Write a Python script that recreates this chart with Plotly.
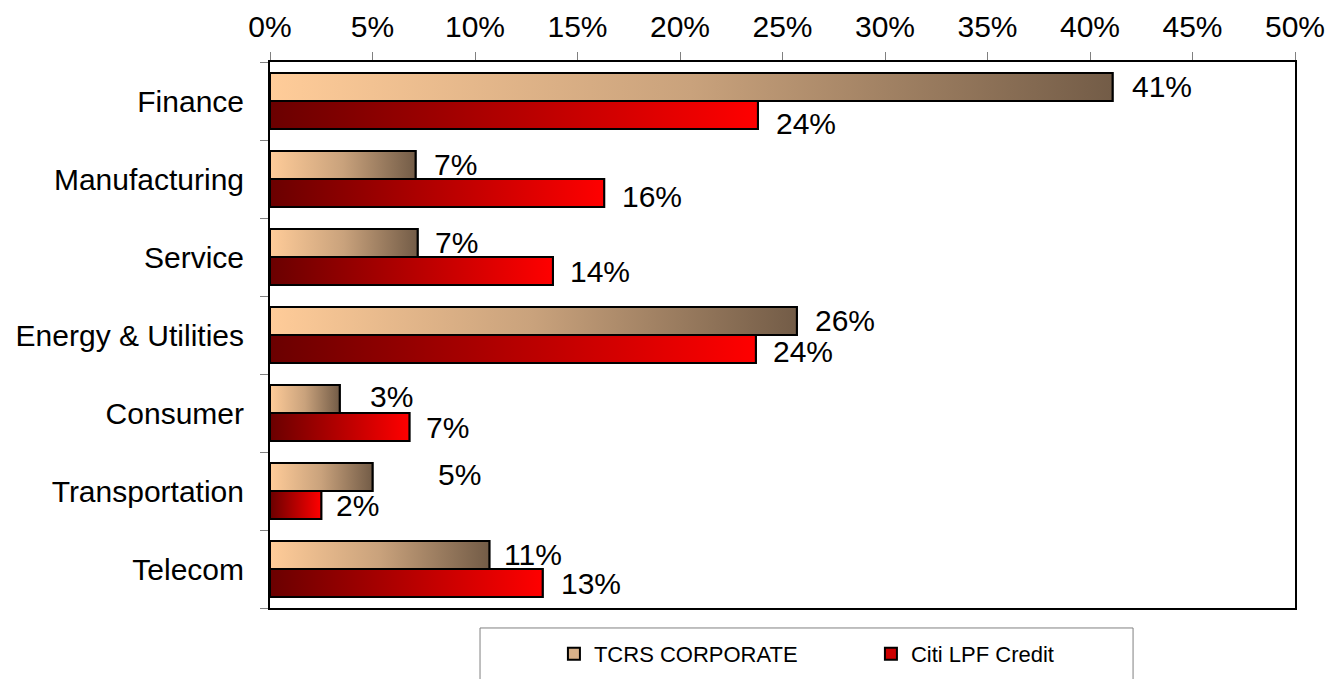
import plotly.graph_objects as go

categories = ["Finance", "Manufacturing", "Service", "Energy & Utilities",
              "Consumer", "Transportation", "Telecom"]
tcrs_values = [41.1, 7.1, 7.2, 25.7, 3.4, 5.0, 10.7]
citi_values = [23.8, 16.3, 13.8, 23.7, 6.8, 2.5, 13.3]
tcrs_labels = ["41%", "7%", "7%", "26%", "3%", "5%", "11%"]
citi_labels = ["24%", "16%", "14%", "24%", "7%", "2%", "13%"]
x_ticks = list(range(0, 55, 5))

FONT = "Arial, Liberation Sans, sans-serif"
TCRS_SCALE = [[0, "#ffcc99"], [0.5, "#c9a27c"], [1, "#735c47"]]
CITI_SCALE = [[0, "#6a0000"], [1, "#ff0000"]]
BAR_H = 0.36
EDGE = 2

fig = go.Figure()

idx = list(range(len(categories)))
fig.add_trace(go.Bar(name="TCRS CORPORATE", x=tcrs_values, y=idx, orientation="h",
                     width=BAR_H, offset=-BAR_H,
                     marker=dict(color="#d8b088", line=dict(color="black", width=EDGE))))
fig.add_trace(go.Bar(name="Citi LPF Credit", x=citi_values, y=idx, orientation="h",
                     width=BAR_H, offset=0,
                     marker=dict(color="#cc0000", line=dict(color="black", width=EDGE))))

# gradient overlays for each bar
for i, v in enumerate(tcrs_values):
    fig.add_trace(go.Scatter(x=[0, v, v, 0, 0], y=[i - BAR_H, i - BAR_H, i, i, i - BAR_H],
                             mode="lines", fill="toself",
                             fillgradient=dict(type="horizontal", colorscale=TCRS_SCALE),
                             line=dict(color="black", width=EDGE),
                             showlegend=False, hoverinfo="skip"))
for i, v in enumerate(citi_values):
    fig.add_trace(go.Scatter(x=[0, v, v, 0, 0], y=[i, i, i + BAR_H, i + BAR_H, i],
                             mode="lines", fill="toself",
                             fillgradient=dict(type="horizontal", colorscale=CITI_SCALE),
                             line=dict(color="black", width=EDGE),
                             showlegend=False, hoverinfo="skip"))

tcrs_xshift = [17, 16, 15, 16, 28, 63, 13]
citi_xshift = [16, 16, 15, 15, 15, 13, 16]
tcrs_yshift = [0, 0, 0, 0, 2, 2, 0]
citi_yshift = [-8, -3, 0, -2, 0, 0, 0]
for i in idx:
    fig.add_annotation(x=tcrs_values[i], y=i - BAR_H / 2, text=tcrs_labels[i],
                       showarrow=False, xanchor="left", yanchor="middle",
                       xshift=tcrs_xshift[i], yshift=tcrs_yshift[i],
                       font=dict(size=30, color="black", family=FONT))
    fig.add_annotation(x=citi_values[i], y=i + BAR_H / 2, text=citi_labels[i],
                       showarrow=False, xanchor="left", yanchor="middle",
                       xshift=citi_xshift[i], yshift=citi_yshift[i],
                       font=dict(size=30, color="black", family=FONT))

# legend frame
fig.add_shape(type="rect", xref="paper", yref="paper",
              x0=0.2049, x1=0.842, y0=-0.0366, y1=-0.2,
              line=dict(color="#808080", width=1), fillcolor="white", layer="below")

# the page adds an 8px body margin; the figure bottom runs past the window like the original
fig.update_layout(
    width=1327, height=700,
    margin=dict(l=262, r=40, t=54, b=100),
    paper_bgcolor="white", plot_bgcolor="white",
    barmode="overlay",
    font=dict(family=FONT, size=30, color="black"),
    showlegend=True,
    legend=dict(orientation="h", x=0.277, xanchor="left", y=-0.0842, yanchor="middle",
                font=dict(size=22, family=FONT, color="black"),
                bgcolor="rgba(0,0,0,0)", borderwidth=0,
                entrywidth=272, traceorder="normal"),
    xaxis=dict(side="top", range=[0, 50], tickvals=x_ticks,
               ticktext=[f"{t}%" for t in x_ticks], automargin=False,
               ticks="outside", ticklen=8, tickcolor="#808080", tickwidth=1,
               showline=True, mirror=True, linecolor="black", linewidth=2,
               showgrid=False, zeroline=False, ticklabelstandoff=3,
               tickfont=dict(size=30, family=FONT, color="black")),
    yaxis=dict(range=[6.5, -0.5], tickvals=idx, ticktext=categories, automargin=False,
               ticks="", showline=True, mirror=True, linecolor="black", linewidth=2,
               showgrid=False, zeroline=False, ticklabelstandoff=18,
               minor=dict(tickvals=[k - 0.5 for k in range(len(categories) + 1)],
                          ticks="outside", ticklen=8, tickcolor="#808080", tickwidth=1,
                          showgrid=False),
               tickfont=dict(size=30, family=FONT, color="black")),
)

fig.write_html("out.html")
